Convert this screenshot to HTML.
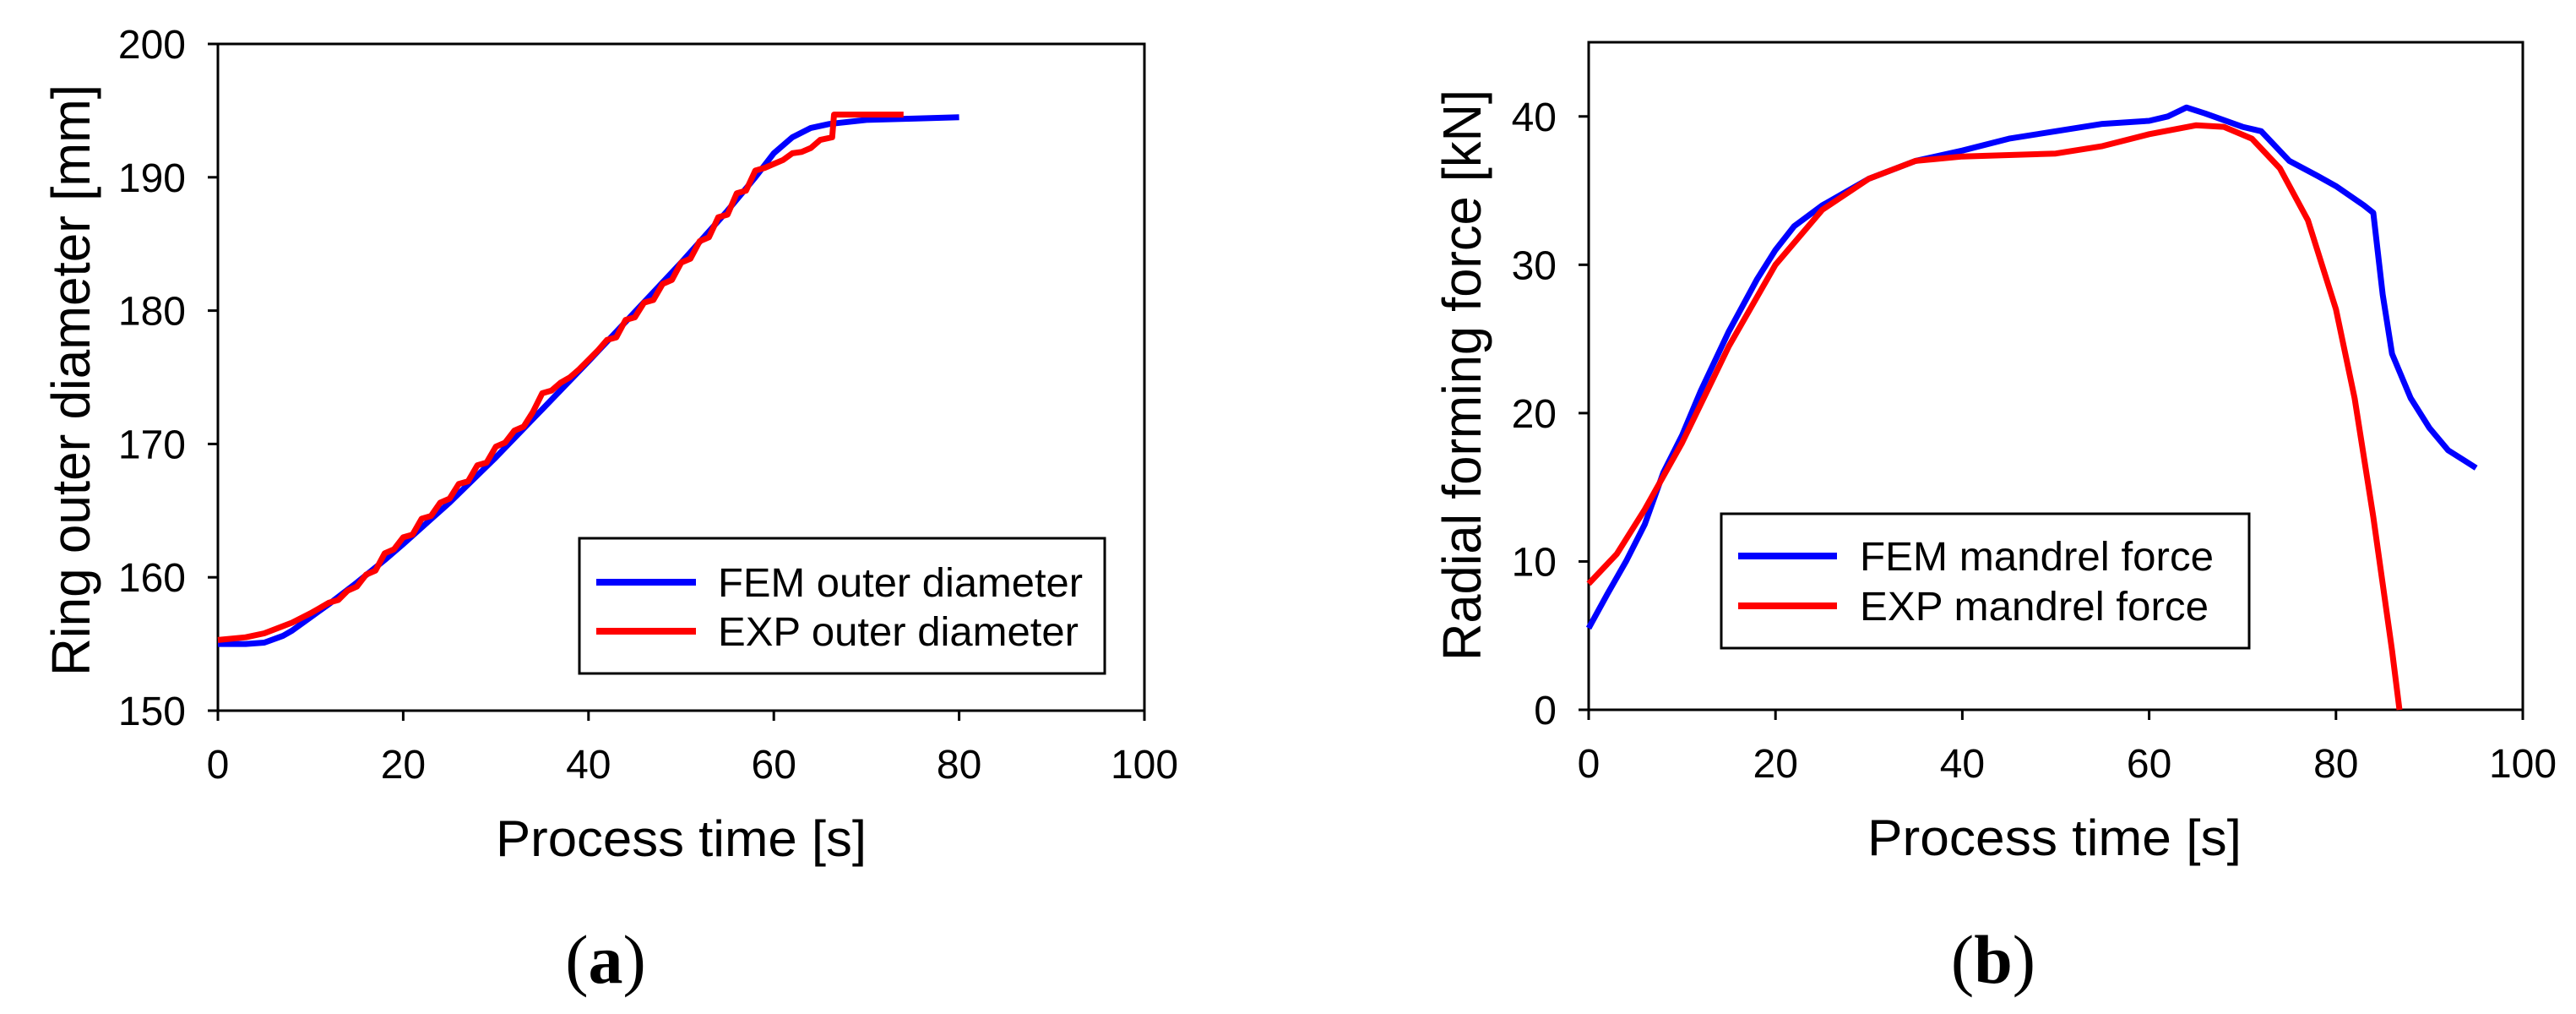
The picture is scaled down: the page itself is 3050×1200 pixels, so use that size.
<!DOCTYPE html>
<html><head><meta charset="utf-8">
<style>
html,body{margin:0;padding:0;background:#fff;}
svg{display:block;font-family:"Liberation Sans",Arial,sans-serif;}
</style></head>
<body>
<svg id="svg" width="3050" height="1200" viewBox="0 0 3050 1200" xmlns="http://www.w3.org/2000/svg"></svg>
<script>
const xTicks=[0,20,40,60,80,100];
const aYTicks=[150,160,170,180,190,200];
const bYTicks=[0,10,20,30,40];
const aFemT=[0,3,5,7,8,10,12,15,18,20,25,30,35,40,45,50,55,58,60,62,64,66,70,75,80];
const aFemV=[155,155,155.1,155.6,156,157,158,159.6,161.3,162.5,165.6,169,172.6,176.2,179.9,183.6,187.5,190,191.8,193,193.7,194,194.3,194.4,194.5];
const aExpT=[0,3,5,8,10,11,12,13,14,15,16,17,18,19,20,21,22,23,24,25,26,27,28,29,30,31,32,33,34,35,36,37,38,39,40,41,42,43,44,45,46,47,48,49,50,51,52,53,54,55,56,57,58,59,60,61,62,63,64,65,66.3,66.5,70,74];
const aExpV=[155.3,155.5,155.8,156.6,157.3,157.7,158.1,158.3,159,159.3,160.2,160.5,161.8,162.1,163,163.2,164.4,164.6,165.6,165.9,167,167.2,168.4,168.6,169.8,170.1,171,171.3,172.4,173.8,174,174.6,175,175.6,176.3,177,177.8,178,179.3,179.5,180.6,180.8,182,182.3,183.6,183.9,185.2,185.5,187,187.2,188.8,189,190.5,190.7,191,191.3,191.8,191.9,192.2,192.8,193,194.7,194.7,194.7];
const bFemT=[0,2,4,6,8,10,12,15,18,20,22,25,30,35,40,45,50,55,60,62,64,66,70,72,75,78,80,83,84,85,86,88,90,92,95];
const bFemV=[5.5,7.8,10,12.5,16,18.5,21.5,25.5,29,31,32.6,34,35.8,37,37.7,38.5,39,39.5,39.7,40,40.6,40.2,39.3,39,37,36,35.3,34,33.5,28,24,21,19,17.5,16.3];
const bExpT=[0,3,6,10,15,20,25,30,35,40,50,55,60,65,68,71,74,77,80,82,84,86,86.8];
const bExpV=[8.5,10.5,13.5,18,24.5,30,33.7,35.8,37,37.3,37.5,38,38.8,39.4,39.3,38.5,36.5,33,27,21,13,4,0];

const NS="http://www.w3.org/2000/svg";
const svg=document.getElementById('svg');
function el(tag,attrs,parent,text){const e=document.createElementNS(NS,tag);for(const k in attrs)e.setAttribute(k,attrs[k]);if(text!==undefined)e.textContent=text;(parent||svg).appendChild(e);return e;}

function chart(id,L,R,T,B,ymin,ymax,yTicks,ytitle,xtitle,series,legend,cap,capX){
  const g=el('g',{});
  
  
  const xs=v=>L+(v-0)/100*(R-L);
  const ys=v=>B-(v-ymin)/(ymax-ymin)*(B-T);
  const frame=el('rect',{x:L,y:T,width:R-L,height:B-T,fill:'none',stroke:'#000','stroke-width':3},g);
  
  
  xTicks.forEach(v=>{
    const x=xs(v);
    const t=el('line',{x1:x,y1:B,x2:x,y2:B+12,stroke:'#000','stroke-width':3},g);
    
    
    const lb=el('text',{x:x,y:B+80,'font-size':48,'text-anchor':'middle'},g,String(v));
    
    
  });
  yTicks.forEach(v=>{
    const y=ys(v);
    const t=el('line',{x1:L-12,y1:y,x2:L,y2:y,stroke:'#000','stroke-width':3},g);
    
    
    const lb=el('text',{x:L-38,y:y+17,'font-size':48,'text-anchor':'end'},g,String(v));
    
    
  });
  const xt=el('text',{x:xtitle.x,y:B+172,'font-size':60,textLength:xtitle.len,lengthAdjust:'spacingAndGlyphs'},g,'Process time [s]');
  
  
  const yt=el('text',{x:-ytitle.len/2,y:0,'font-size':64,textLength:ytitle.len,lengthAdjust:'spacingAndGlyphs',transform:`translate(${ytitle.x},${ytitle.cy}) rotate(-90)`},g,ytitle.text);
  
  
  series.forEach(s=>{
    const d=s.t.map((t,i)=>(i?'L':'M')+xs(t).toFixed(1)+','+ys(s.v[i]).toFixed(1)).join(' ');
    const p=el('path',{d:d,fill:'none',stroke:s.c,'stroke-width':7,'stroke-linejoin':'round'},g);
    
    
  });
  const lg=el('g',{},g);
  
  
  el('rect',{x:legend.x1,y:legend.y1,width:legend.x2-legend.x1,height:legend.y2-legend.y1,fill:'#fff',stroke:'#000','stroke-width':3},lg);
  legend.items.forEach(it=>{
    const e=el('g',{},lg);
    
    
    el('line',{x1:legend.lx1,x2:legend.lx2,y1:it.y,y2:it.y,stroke:it.c,'stroke-width':8},e);
    el('text',{x:legend.tx,y:it.y+17,'font-size':48,textLength:it.len,lengthAdjust:'spacingAndGlyphs'},e,it.text);
  });
  const c=el('text',{x:capX,y:1163,'font-size':82,'text-anchor':'middle','font-family':'"Liberation Serif",serif'},g);
  
  
  el('tspan',{},c,'(');
  el('tspan',{'font-weight':'bold'},c,cap);
  el('tspan',{},c,')');
}

chart('chart-a',258,1355,52,841,150,200,aYTicks,{x:106,cy:450,len:700,text:'Ring outer diameter [mm]'},{x:587,len:439},
 [{name:'fem-outer-diameter-line',t:aFemT,v:aFemV,c:'#0000ff'},{name:'exp-outer-diameter-line',t:aExpT,v:aExpV,c:'#ff0000'}],
 {x1:686,x2:1308,y1:637,y2:797,lx1:706,lx2:824,tx:850,items:[{y:689,c:'#0000ff',text:'FEM outer diameter',len:432},{y:747,c:'#ff0000',text:'EXP outer diameter',len:427}]},'a',717);
chart('chart-b',1881,2987,50,840,0,45,bYTicks,{x:1753,cy:444,len:676,text:'Radial forming force [kN]'},{x:2211,len:443},
 [{name:'fem-mandrel-force-line',t:bFemT,v:bFemV,c:'#0000ff'},{name:'exp-mandrel-force-line',t:bExpT,v:bExpV,c:'#ff0000'}],
 {x1:2038,x2:2663,y1:608,y2:767,lx1:2058,lx2:2175,tx:2202,items:[{y:658,c:'#0000ff',text:'FEM mandrel force',len:419},{y:717,c:'#ff0000',text:'EXP mandrel force',len:413}]},'b',2360);
</script>
</body></html>
